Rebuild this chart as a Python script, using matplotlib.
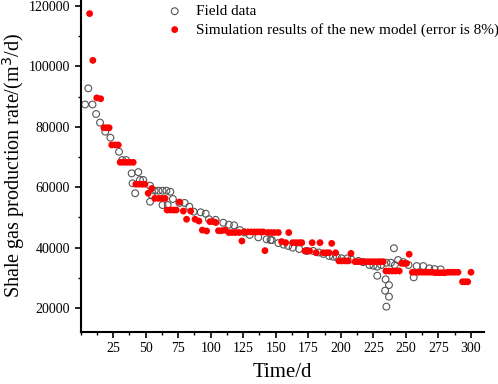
import matplotlib
matplotlib.use("Agg")
import matplotlib.pyplot as plt
from matplotlib.ticker import MultipleLocator

plt.rcParams['font.family'] = ['Liberation Serif', 'DejaVu Serif']

# Field data (day, rate m3/d)
field_t = [3.5, 6, 9.2, 12, 15, 19, 23, 29.6, 32, 35, 39.3, 40, 42, 44.4, 45.7, 48.2,
           53.4, 53.4, 54.7, 57, 60, 63, 66, 69, 63, 67, 71, 76, 80, 83.6, 87, 92.3,
           96.2, 98.7, 103.8, 109.7, 114, 118, 122.5, 126, 130, 136.6, 143, 146, 147,
           152, 156, 159.6, 163, 168, 173.7, 178.8, 183, 186.5, 191, 194, 197, 200.6,
           205, 208, 213.4, 217, 222, 225, 228, 228, 231, 235, 238.5, 234.4, 237, 234,
           237, 235, 240.8, 241.5, 244, 248, 252, 256, 258.3, 263.3, 268, 272, 276.7]
field_q = [87400, 92750, 87400, 84250, 81400, 78400, 76400, 71750, 69000, 69000, 64600,
           61300, 58000, 65000, 62400, 62400, 60500, 55200, 57400, 58850, 58850, 58850,
           58850, 58500, 54100, 54100, 56100, 54800, 54800, 53550, 51900, 51700, 51250,
           49400, 49200, 48250, 47600, 47400, 45800, 45000, 44200, 43400, 42750, 42500,
           42500, 41500, 41000, 40550, 40000, 39550, 38900, 38900, 38400, 37900, 37250,
           37000, 36800, 36450, 36450, 36100, 35600, 35200, 34250, 34000, 33700, 30700,
           34250, 35000, 35000, 29500, 27600, 25750, 23750, 20450, 39800, 34250, 35900,
           35200, 34250, 30150, 33900, 33900, 33150, 32900, 32800]

# Simulation results of the new model
sim_t = [7, 9.5, 12.5, 15.5, 18, 20, 22, 24, 26.5, 29, 30.5, 33, 35.5, 38, 40.5,
         42.5, 45, 47.5, 49.5, 52, 54.7, 57, 60, 62.5, 65, 66.5, 69, 71.5, 73.5, 76,
         79, 81.5, 84.6, 88, 91, 93.6, 96.9, 99.5, 102, 104, 106, 108.5, 111, 114,
         116.5, 119, 122, 124, 126, 128.5, 131, 133.5, 136, 138.5, 140.5, 141.7, 144,
         146.5, 149, 152, 154.5, 157.6, 160, 163, 165.5, 168, 170, 172.4, 174.5, 176,
         178, 181, 184, 186.5, 189, 191, 193, 196, 198.5, 201, 203.5, 205.7, 207.8,
         211, 213.5, 216, 218.5, 221, 223.5, 226, 228.5, 230.5, 232.6, 234.6, 237,
         239.5, 242, 244.9, 246.7, 248.7, 250.5, 252.5, 255, 257.5, 260, 262.5, 265,
         267.5, 270, 272.5, 275, 277.5, 280, 282.5, 285, 287.5, 290, 293.5, 295.5,
         297.5, 300]
sim_q = [117500, 102000, 89600, 89300, 79700, 79700, 79700, 74000, 74000, 74000,
         68250, 68250, 68250, 68250, 68250, 61000, 61000, 61000, 61000, 58000, 59600,
         56300, 56300, 56300, 56300, 52450, 52450, 52450, 52450, 55100, 52100, 49400,
         52100, 49400, 48800, 45800, 45500, 48600, 48600, 48300, 45600, 45600, 45800,
         45000, 45000, 45000, 45000, 42200, 45200, 45200, 45200, 45200, 45200, 45200,
         45200, 39000, 45000, 45000, 45000, 45000, 42000, 41650, 45000, 41650, 41650,
         41650, 41650, 38900, 38900, 38900, 41650, 38300, 41650, 38300, 38300, 38300,
         41400, 38300, 35600, 35600, 35600, 35600, 38100, 35350, 35350, 35350, 35350,
         35350, 35350, 35350, 35350, 35350, 35350, 32250, 32250, 32250, 32250, 32250,
         34800, 34800, 34800, 37800, 31850, 31850, 31850, 31850, 31850, 31850, 31850,
         31700, 31700, 31700, 31700, 31850, 31850, 31850, 31850, 28700, 28700, 28700,
         31850]

x_ticks = [25, 50, 75, 100, 125, 150, 175, 200, 225, 250, 275, 300]
y_ticks = [20000, 40000, 60000, 80000, 100000, 120000]

fig = plt.figure(figsize=(4.98, 3.84), dpi=100)
ax = fig.add_axes([80.5/498, 1 - 331.7/384, (484 - 80.5)/498, 331.7/384])

ax.scatter(field_t, field_q, s=24, facecolors='none', edgecolors='#555555',
           linewidths=0.8, label='Field data', zorder=2)
ax.scatter(sim_t, sim_q, s=24, color='#ff0000', edgecolors='none',
           label='Simulation results of the new model (error is 8%)', zorder=3)

ax.set_xlim(0, 310)
ax.set_ylim(12160, 122000)
ax.set_xticks(x_ticks)
ax.set_yticks(y_ticks)
ax.xaxis.set_minor_locator(MultipleLocator(12.5))
ax.yaxis.set_minor_locator(MultipleLocator(10000))
ax.tick_params(which='major', direction='out', length=4, width=1.2, labelsize=10)
ax.tick_params(which='minor', direction='out', length=2.5, width=1.0)
for s in ['top', 'right']:
    ax.spines[s].set_visible(False)
for s in ['left', 'bottom']:
    ax.spines[s].set_linewidth(1.5)

ax.set_xlabel('Time/d', fontsize=15, labelpad=6)
ax.set_ylabel('Shale gas production rate/(m$^3$/d)', fontsize=14.5, labelpad=1)

leg = ax.legend(loc='upper left', bbox_to_anchor=(164/498, 1 - 3/384),
                bbox_transform=fig.transFigure, frameon=False, fontsize=11,
                handletextpad=0.8, borderpad=0.1, labelspacing=0.3,
                handlelength=1.2, borderaxespad=0)

fig.savefig('out.png', dpi=100)
